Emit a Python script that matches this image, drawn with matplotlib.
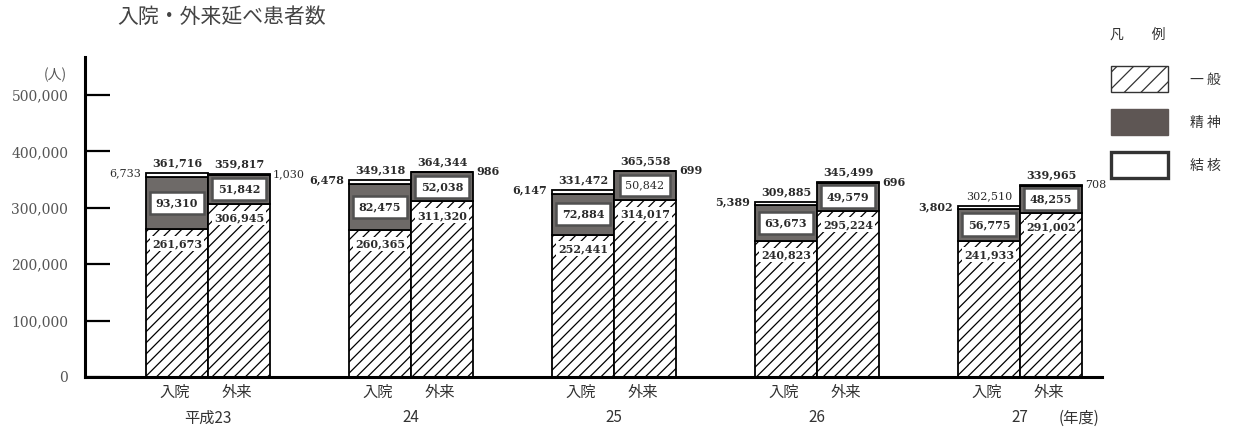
import matplotlib
matplotlib.use('Agg')
import matplotlib.pyplot as plt
from matplotlib.patches import Rectangle

plt.rcParams['font.family'] = ['Noto Sans CJK JP', 'DejaVu Sans']
plt.rcParams['hatch.linewidth'] = 0.9

# 年度と区分
years = ['平成23', '24', '25', '26', '27']
kinds = ['入院', '外来']

# 入院（一般・精神・結核）
in_general = [261673, 260365, 252441, 240823, 241933]
in_mental = [93310, 82475, 72884, 63673, 56775]
in_tb = [6733, 6478, 6147, 5389, 3802]

# 外来（一般・精神・結核）
out_general = [306945, 311320, 314017, 295224, 291002]
out_mental = [51842, 52038, 50842, 49579, 48255]
out_tb = [1030, 986, 699, 696, 708]

yticks = [0, 100000, 200000, 300000, 400000, 500000]

legend_labels = ['一 般', '精 神', '結 核']

# かすれて細く見えるラベル
LIGHT = {'6,733', '1,030', '50,842', '302,510', '708'}

W, H = 1234, 432
GRAY = '#5e5654'
BAR_GRAY = '#6e6a68'
TXT = '#2a2a2a'
NUMFONT = 'DejaVu Serif'
PT = 0.72  # px -> pt at 100 dpi


def fx(px):
    return px / W


def fy(py):
    return 1 - py / H


fig = plt.figure(figsize=(W / 100, H / 100), dpi=100)
ax = fig.add_axes([fx(85), 55 / H, (1102 - 85) / W, 320 / H])
ax.set_ylim(0, 567400)
ax.set_xlim(-0.606, 4.404)
bw = 0.305


def num_label(txt, xy, dx=0, dy=0, ha='center', box=None):
    weight = 'normal' if txt in LIGHT else 'bold'
    ax.annotate(txt, xy, xytext=(dx * PT, dy * PT), textcoords='offset points',
                ha=ha, va='center', fontsize=8, family=NUMFONT,
                fontweight=weight, color=TXT, bbox=box, zorder=5)


series = [(in_general, in_mental, in_tb), (out_general, out_mental, out_tb)]

for i in range(len(years)):
    for k, (gen, men, tb) in enumerate(series):
        x = i + (k - 0.5) * bw
        g, m, t = gen[i], men[i], tb[i]
        total = g + m + t
        ax.bar(x, g, bw, color='white', edgecolor='black', hatch='///', lw=1.3, zorder=2)
        ax.bar(x, m, bw, bottom=g, color=BAR_GRAY, edgecolor='black', lw=1.3, zorder=2)
        ax.bar(x, t, bw, bottom=g + m, color='white', edgecolor='black', lw=1.3, zorder=2)

        num_label(f'{total:,}', (x, total), dy=10)
        num_label(f'{g:,}', (x, g), dy=-14,
                  box=dict(facecolor='white', edgecolor='none', pad=1.2))
        num_label(f'{m:,}', (x, g + m / 2),
                  box=dict(boxstyle='square,pad=0.5', facecolor='white',
                           edgecolor='#505050', lw=1.8))
        if k == 0:
            num_label(f'{t:,}', (x - bw / 2, total), dx=-5, ha='right')
        else:
            num_label(f'{t:,}', (x + bw / 2, total), dx=3, ha='left')

        ax.text(x - 0.01, -0.047, kinds[k], transform=ax.get_xaxis_transform(),
                ha='center', va='center', fontsize=11, color='#333333')
    ax.text(i, -0.128, years[i], transform=ax.get_xaxis_transform(),
            ha='center', va='center', fontsize=11, color='#333333')

# 軸
for s in ['top', 'right']:
    ax.spines[s].set_visible(False)
ax.spines['left'].set_linewidth(2.2)
ax.spines['bottom'].set_linewidth(2.2)
ax.set_xticks([])
ax.set_yticks(yticks)
ax.set_yticklabels([f'{v:,}' for v in yticks], family=NUMFONT, fontsize=10,
                   color='#555555')
ax.tick_params(axis='y', direction='in', length=18, width=1.6, pad=12)

# 見出し・単位
fig.text(fx(117), fy(17), '入院・外来延べ患者数', fontsize=15, color='#444444',
         ha='left', va='center')
fig.text(fx(55), fy(75), '(人)', fontsize=10, color='#555555', ha='center', va='center')
fig.text(fx(1079), fy(418), '(年度)', fontsize=11, color='#333333', ha='center', va='center')

# 凡例
fig.text(fx(1138), fy(35), '凡　　例', fontsize=10, color='#333333', ha='center', va='center')
boxes = [
    dict(facecolor='white', edgecolor='#333333', hatch='//', lw=1.0),
    dict(facecolor=GRAY, edgecolor=GRAY, lw=1.0),
    dict(facecolor='white', edgecolor='#333333', lw=2.4),
]
tops = [66, 109, 152]
for top, style, lab in zip(tops, boxes, legend_labels):
    fig.add_artist(Rectangle((fx(1111), fy(top + 26)), 57 / W, 26 / H,
                             transform=fig.transFigure, **style))
    fig.text(fx(1205), fy(top + 14), lab, fontsize=10, color='#333333',
             ha='center', va='center')

fig.savefig('out.png', dpi=100)
